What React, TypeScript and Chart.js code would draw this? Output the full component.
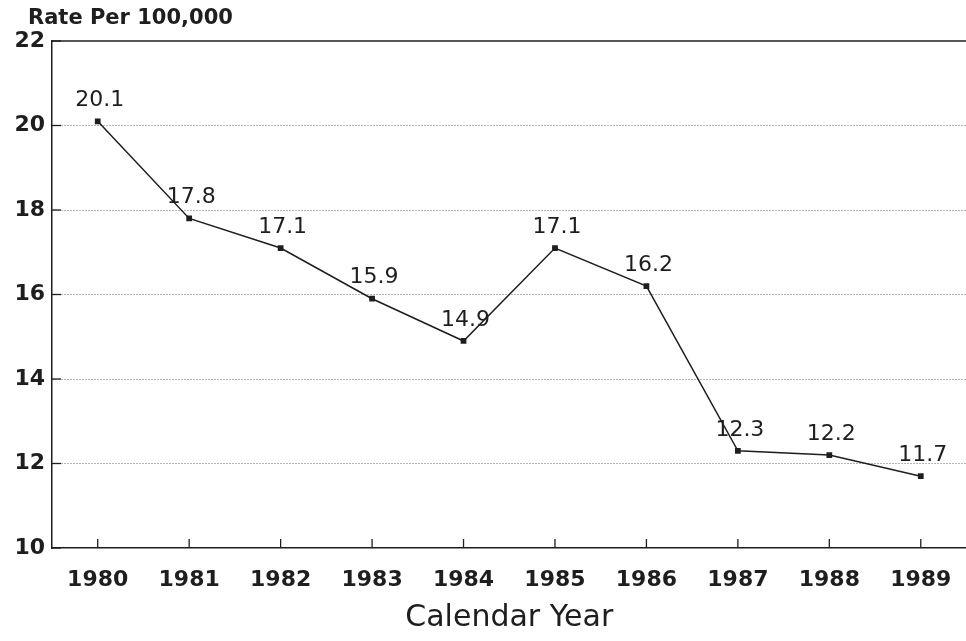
import React, { useEffect, useRef } from "react";
import { Chart, registerables } from "chart.js";

Chart.register(...registerables);

const years: string[] = ["1980", "1981", "1982", "1983", "1984", "1985", "1986", "1987", "1988", "1989"];
const rates: number[] = [20.1, 17.8, 17.1, 15.9, 14.9, 17.1, 16.2, 12.3, 12.2, 11.7];
const yTicks: number[] = [10, 12, 14, 16, 18, 20, 22];
const yAxisTitle = "Rate Per 100,000";
const xAxisTitle = "Calendar Year";

const FONT = "'DejaVu Sans', Verdana, sans-serif";
const INK = "#1e1e1e";

const decorPlugin = {
  id: "decor",
  afterDraw(chart: any) {
    const ctx = chart.ctx;
    const area = chart.chartArea;
    const xs = chart.scales.x;
    const ys = chart.scales.y;
    ctx.save();
    // top solid line
    ctx.strokeStyle = INK;
    ctx.lineWidth = 1.5;
    ctx.beginPath();
    ctx.moveTo(area.left, area.top);
    ctx.lineTo(chart.width, area.top);
    ctx.stroke();
    // inward y ticks
    ctx.lineWidth = 1.3;
    yTicks.forEach((v) => {
      const y = ys.getPixelForValue(v);
      ctx.beginPath();
      ctx.moveTo(area.left, y);
      ctx.lineTo(area.left + 9, y);
      ctx.stroke();
    });
    // inward x ticks
    years.forEach((_, i) => {
      const x = xs.getPixelForValue(i);
      ctx.beginPath();
      ctx.moveTo(x, area.bottom);
      ctx.lineTo(x, area.bottom - 9);
      ctx.stroke();
    });
    // y axis title
    ctx.fillStyle = INK;
    ctx.font = `bold 21px ${FONT}`;
    ctx.textAlign = "left";
    ctx.textBaseline = "middle";
    ctx.fillText(yAxisTitle, 28, 19);
    // data labels
    const meta = chart.getDatasetMeta(0);
    ctx.font = `22px ${FONT}`;
    ctx.textAlign = "center";
    meta.data.forEach((pt: any, i: number) => {
      ctx.fillText(rates[i].toFixed(1), pt.x + 2, pt.y - 21);
    });
    ctx.restore();
  },
};

export default function App() {
  const ref = useRef<HTMLCanvasElement | null>(null);
  useEffect(() => {
    if (!ref.current) return;
    const chart = new Chart(ref.current, {
      type: "line",
      data: {
        labels: years,
        datasets: [
          {
            data: rates,
            borderColor: INK,
            borderWidth: 1.5,
            pointStyle: "rect",
            pointRadius: 3,
            pointBackgroundColor: INK,
            pointBorderColor: INK,
            tension: 0,
            fill: false,
          },
        ],
      },
      options: {
        animation: false,
        responsive: false,
        layout: { padding: { top: 41, right: 0, bottom: 0, left: 0 } },
        plugins: {
          legend: { display: false },
          tooltip: { enabled: false },
          title: { display: false },
        },
        scales: {
          x: {
            type: "category",
            offset: true,
            grid: { display: false, drawTicks: false },
            border: { display: true, color: INK, width: 1.5 },
            ticks: {
              color: INK,
              font: { family: FONT, size: 22, weight: "bold" },
              padding: 19,
              maxRotation: 0,
              autoSkip: false,
            },
            title: {
              display: true,
              text: xAxisTitle,
              color: INK,
              font: { family: FONT, size: 30 },
              padding: { top: 0, bottom: 5 },
            },
            afterFit: (s: any) => {
              s.height = 93;
            },
          },
          y: {
            min: 10,
            max: 22,
            afterBuildTicks: (s: any) => {
              s.ticks = yTicks.map((v) => ({ value: v }));
            },
            grid: {
              drawTicks: false,
              color: (c: any) => (c.tick && (c.tick.value === 10 || c.tick.value === 22) ? "rgba(0,0,0,0)" : "#6a6a6a"),
              lineWidth: 1,
            },
            border: { display: true, color: INK, width: 1.5, dash: [1, 2] },
            ticks: {
              color: INK,
              font: { family: FONT, size: 22, weight: "bold" },
              padding: 7,
            },
            afterFit: (s: any) => {
              s.width = 52;
            },
          },
        },
      },
      plugins: [decorPlugin],
    });
    return () => chart.destroy();
  }, []);
  return (
    <div style={{ position: "fixed", left: 0, top: 0, width: 966, height: 641, overflow: "hidden", background: "#fff" }}>
      <canvas ref={ref} width={972} height={641} style={{ width: 972, height: 641, display: "block" }} />
    </div>
  );
}
